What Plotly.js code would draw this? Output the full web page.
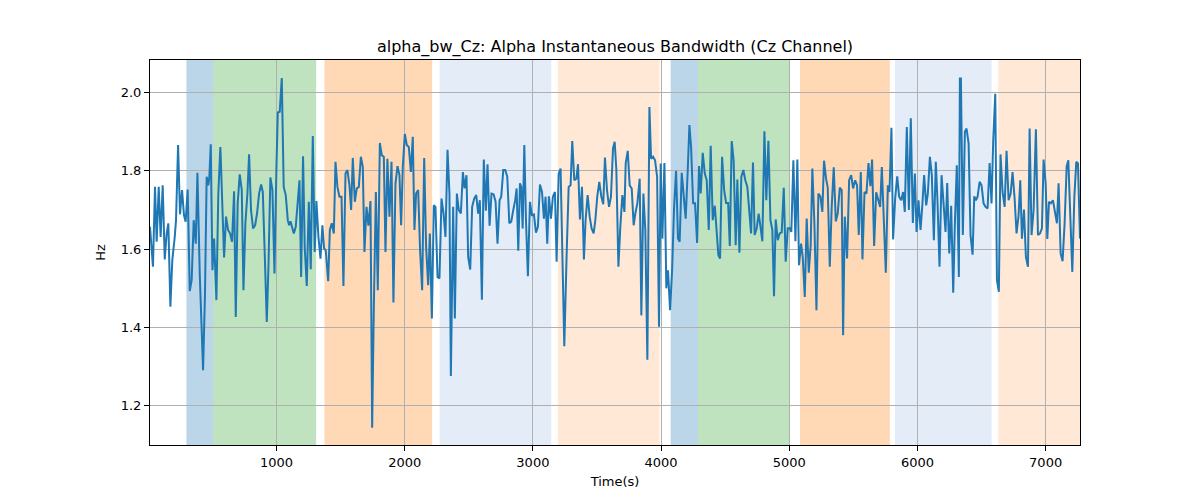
<!DOCTYPE html>
<html>
<head>
<meta charset="utf-8">
<script src="https://cdn.plot.ly/plotly-3.0.1.min.js"></script>
<style>
  body { margin: 0; background: #fff; }
  #chart { width: 1200px; height: 500px; }
</style>
</head>
<body>
<div id="chart"></div>
<script>
// Alpha bandwidth on Cz

// sample times (s)
const time = [
  13, 36, 52, 65, 81, 96, 112, 128, 143, 156, 172, 187, 206, 216, 232, 247, 263, 278, 291, 307,
  323, 338, 354, 370, 383, 401, 427, 442, 455, 468, 476, 487, 500, 513, 531, 546, 562, 578, 591, 606,
  622, 638, 653, 669, 682, 697, 713, 729, 742, 757, 773, 786, 801, 817, 833, 848, 864, 880, 893, 908,
  924, 937, 952, 968, 984, 999, 1010, 1025, 1041, 1056, 1072, 1088, 1098, 1109, 1119, 1135, 1150, 1163, 1179, 1192,
  1207, 1220, 1236, 1252, 1267, 1283, 1298, 1311, 1327, 1343, 1358, 1371, 1384, 1403, 1416, 1431, 1447, 1460, 1475, 1491,
  1507, 1522, 1538, 1553, 1569, 1582, 1595, 1611, 1626, 1642, 1658, 1673, 1686, 1702, 1717, 1733, 1746, 1759, 1775, 1790,
  1806, 1821, 1837, 1850, 1865, 1881, 1897, 1912, 1928, 1944, 1959, 1972, 1985, 2001, 2016, 2032, 2048, 2063, 2076, 2089,
  2105, 2120, 2136, 2152, 2167, 2183, 2196, 2212, 2227, 2240, 2256, 2271, 2287, 2303, 2318, 2334, 2349, 2360, 2378, 2391,
  2407, 2422, 2438, 2454, 2467, 2482, 2495, 2511, 2526, 2542, 2558, 2573, 2586, 2602, 2617, 2633, 2646, 2662, 2677, 2693,
  2709, 2724, 2740, 2753, 2769, 2784, 2800, 2816, 2831, 2847, 2862, 2873, 2886, 2899, 2909, 2920, 2933, 2946, 2961, 2977,
  2992, 3008, 3024, 3039, 3055, 3071, 3086, 3099, 3112, 3125, 3141, 3156, 3172, 3185, 3201, 3216, 3232, 3245, 3263, 3279,
  3294, 3307, 3323, 3339, 3352, 3367, 3383, 3398, 3411, 3427, 3443, 3458, 3474, 3487, 3502, 3518, 3534, 3549, 3562, 3578,
  3594, 3609, 3625, 3638, 3651, 3667, 3682, 3698, 3714, 3724, 3740, 3755, 3771, 3786, 3799, 3815, 3833, 3846, 3862, 3877,
  3893, 3909, 3922, 3937, 3953, 3969, 3984, 3997, 4010, 4026, 4041, 4054, 4070, 4086, 4101, 4117, 4132, 4145, 4161, 4177,
  4192, 4208, 4221, 4234, 4250, 4265, 4281, 4296, 4309, 4325, 4341, 4356, 4372, 4387, 4403, 4419, 4432, 4447, 4460, 4476,
  4492, 4507, 4523, 4536, 4551, 4566, 4582, 4595, 4611, 4626, 4642, 4657, 4673, 4689, 4702, 4717, 4730, 4746, 4761, 4777,
  4790, 4806, 4821, 4837, 4853, 4868, 4881, 4894, 4910, 4925, 4941, 4957, 4972, 4988, 5003, 5016, 5032, 5048, 5063, 5076,
  5092, 5105, 5121, 5136, 5152, 5167, 5180, 5196, 5212, 5227, 5243, 5258, 5271, 5287, 5300, 5316, 5331, 5347, 5363, 5378,
  5394, 5409, 5420, 5433, 5451, 5467, 5483, 5498, 5514, 5529, 5542, 5558, 5571, 5587, 5602, 5618, 5633, 5646, 5662, 5678,
  5693, 5709, 5722, 5738, 5753, 5769, 5782, 5797, 5810, 5826, 5842, 5857, 5873, 5888, 5901, 5917, 5933, 5948, 5964, 5980,
  5993, 6008, 6024, 6039, 6052, 6068, 6081, 6097, 6112, 6128, 6143, 6156, 6172, 6188, 6203, 6219, 6232, 6248, 6263, 6279,
  6292, 6307, 6323, 6331, 6339, 6354, 6370, 6383, 6399, 6414, 6430, 6443, 6456, 6469, 6485, 6500, 6516, 6531, 6547, 6563,
  6578, 6591, 6607, 6620, 6635, 6648, 6664, 6680, 6695, 6711, 6727, 6742, 6758, 6773, 6789, 6802, 6815, 6831, 6846, 6862,
  6875, 6890, 6906, 6924, 6940, 6956, 6971, 6984, 7000, 7013, 7026, 7041, 7057, 7073, 7088, 7101, 7117, 7132, 7148, 7164,
  7177, 7192, 7208, 7224, 7239, 7252, 7268
];

// instantaneous bandwidth (Hz)
const bandwidth = [
  1.657, 1.555, 1.759, 1.619, 1.759, 1.631, 1.763, 1.574, 1.640, 1.666, 1.453, 1.572, 1.631, 1.674, 1.866, 1.689, 1.751, 1.687, 1.670, 1.752,
  1.493, 1.521, 1.674, 1.614, 1.795, 1.538, 1.291, 1.487, 1.785, 1.763, 1.785, 1.868, 1.546, 1.627, 1.470, 1.742, 1.861, 1.674, 1.579, 1.683,
  1.649, 1.640, 1.619, 1.748, 1.427, 1.717, 1.791, 1.751, 1.495, 1.666, 1.742, 1.842, 1.700, 1.653, 1.661, 1.691, 1.742, 1.765, 1.746, 1.589,
  1.414, 1.555, 1.783, 1.751, 1.538, 1.802, 1.949, 1.951, 2.037, 1.759, 1.738, 1.674, 1.661, 1.671, 1.657, 1.640, 1.657, 1.712, 1.776, 1.529,
  1.837, 1.606, 1.506, 1.721, 1.549, 1.889, 1.593, 1.723, 1.631, 1.576, 1.661, 1.602, 1.597, 1.518, 1.649, 1.666, 1.640, 1.823, 1.759, 1.734,
  1.734, 1.506, 1.793, 1.802, 1.763, 1.700, 1.833, 1.721, 1.755, 1.759, 1.836, 1.810, 1.593, 1.708, 1.660, 1.723, 1.144, 1.449, 1.746, 1.495,
  1.871, 1.840, 1.836, 1.593, 1.831, 1.683, 1.823, 1.464, 1.768, 1.812, 1.789, 1.661, 1.810, 1.894, 1.866, 1.861, 1.797, 1.887, 1.649, 1.742,
  1.751, 1.597, 1.495, 1.833, 1.606, 1.508, 1.640, 1.423, 1.712, 1.708, 1.529, 1.525, 1.729, 1.691, 1.631, 1.854, 1.742, 1.276, 1.708, 1.423,
  1.742, 1.700, 1.691, 1.797, 1.755, 1.789, 1.580, 1.548, 1.708, 1.729, 1.738, 1.691, 1.725, 1.471, 1.829, 1.698, 1.817, 1.660, 1.742, 1.740,
  1.721, 1.614, 1.725, 1.734, 1.802, 1.802, 1.785, 1.666, 1.670, 1.700, 1.725, 1.755, 1.596, 1.768, 1.759, 1.653, 1.866, 1.674, 1.531, 1.721,
  1.687, 1.689, 1.642, 1.657, 1.765, 1.746, 1.678, 1.734, 1.614, 1.735, 1.678, 1.734, 1.746, 1.568, 1.793, 1.806, 1.589, 1.352, 1.585, 1.759,
  1.763, 1.876, 1.776, 1.780, 1.817, 1.676, 1.759, 1.574, 1.674, 1.738, 1.683, 1.653, 1.640, 1.674, 1.734, 1.772, 1.734, 1.715, 1.834, 1.751,
  1.708, 1.734, 1.857, 1.874, 1.802, 1.555, 1.657, 1.738, 1.695, 1.819, 1.851, 1.763, 1.755, 1.661, 1.691, 1.717, 1.780, 1.431, 1.742, 1.649,
  1.318, 1.963, 1.831, 1.836, 1.827, 1.785, 1.402, 1.819, 1.627, 1.820, 1.500, 1.546, 1.444, 1.546, 1.704, 1.800, 1.627, 1.619, 1.795, 1.742,
  1.678, 1.802, 1.917, 1.861, 1.717, 1.717, 1.616, 1.812, 1.742, 1.846, 1.793, 1.776, 1.649, 1.864, 1.674, 1.711, 1.653, 1.585, 1.576, 1.836,
  1.751, 1.718, 1.718, 1.608, 1.876, 1.827, 1.610, 1.778, 1.591, 1.785, 1.802, 1.776, 1.759, 1.700, 1.640, 1.821, 1.636, 1.653, 1.691, 1.653,
  1.620, 1.901, 1.725, 1.877, 1.674, 1.649, 1.480, 1.676, 1.623, 1.640, 1.643, 1.757, 1.568, 1.653, 1.654, 1.644, 1.827, 1.620, 1.829, 1.559,
  1.614, 1.580, 1.478, 1.678, 1.540, 1.610, 1.806, 1.666, 1.444, 1.742, 1.734, 1.695, 1.826, 1.780, 1.757, 1.555, 1.708, 1.809, 1.671, 1.691,
  1.757, 1.751, 1.380, 1.683, 1.576, 1.776, 1.789, 1.755, 1.776, 1.763, 1.636, 1.797, 1.574, 1.746, 1.742, 1.820, 1.761, 1.829, 1.608, 1.745,
  1.725, 1.708, 1.810, 1.653, 1.540, 1.763, 1.746, 1.910, 1.625, 1.729, 1.786, 1.734, 1.725, 1.746, 1.695, 1.912, 1.700, 1.934, 1.667, 1.793,
  1.644, 1.725, 1.649, 1.717, 1.789, 1.712, 1.742, 1.836, 1.789, 1.623, 1.823, 1.725, 1.555, 1.789, 1.704, 1.644, 1.769, 1.589, 1.711, 1.489,
  1.666, 1.814, 1.529, 2.036, 2.036, 1.636, 1.900, 1.908, 1.870, 1.636, 1.586, 1.735, 1.725, 1.734, 1.772, 1.763, 1.717, 1.708, 1.704, 1.820,
  1.717, 1.878, 1.997, 1.521, 1.491, 1.842, 1.746, 1.708, 1.851, 1.725, 1.742, 1.797, 1.729, 1.640, 1.687, 1.776, 1.627, 1.701, 1.580, 1.555,
  1.908, 1.636, 1.700, 1.906, 1.636, 1.640, 1.653, 1.829, 1.768, 1.626, 1.721, 1.717, 1.725, 1.691, 1.666, 1.768, 1.589, 1.569, 1.666, 1.812,
  1.827, 1.687, 1.542, 1.734, 1.823, 1.819, 1.627
];

// shaded segments (start, end, kind)
const segStart = [297, 505, 1374, 2272, 3195, 4075, 4288, 5084, 5824, 6630];
const segEnd   = [505, 1309, 2214, 3143, 3989, 4288, 4998, 5785, 6578, 7268];
const segKind  = ['blue', 'green', 'orange', 'paleBlue', 'paleOrange',
                  'blue', 'green', 'orange', 'paleBlue', 'paleOrange'];

const xTicks = [1000, 2000, 3000, 4000, 5000, 6000, 7000];
const yTicks = [1.2, 1.4, 1.6, 1.8, 2.0];

const fills = {
  blue: 'rgba(31,119,180,0.3)',
  green: 'rgba(44,160,44,0.3)',
  orange: 'rgba(255,127,14,0.3)',
  paleBlue: 'rgba(108,150,210,0.18)',
  paleOrange: 'rgba(255,127,14,0.17)'
};

let shapes = [];
for (let i = 0; i < segStart.length; i++) {
  shapes.push({
    type: 'rect',
    xref: 'x',
    yref: 'paper',
    x0: segStart[i],
    x1: segEnd[i],
    y0: 0,
    y1: 1,
    fillcolor: fills[segKind[i]],
    line: { width: 0 },
    layer: 'below'
  });
}

let trace = {
  x: time,
  y: bandwidth,
  mode: 'lines',
  line: { color: '#1f77b4', width: 2 },
  hoverinfo: 'skip'
};

const axisFont = { family: 'DejaVu Sans', size: 13, color: '#000' };

let layout = {
  width: 1200,
  height: 500,
  margin: { l: 150, r: 120, t: 60, b: 55 },
  paper_bgcolor: '#fff',
  plot_bgcolor: '#fff',
  showlegend: false,
  font: axisFont,
  title: {
    text: 'alpha_bw_Cz: Alpha Instantaneous Bandwidth (Cz Channel)',
    font: { family: 'DejaVu Sans', size: 16, color: '#000' },
    x: 0.5125,
    xanchor: 'center',
    y: 0.908,
    yanchor: 'middle'
  },
  xaxis: {
    range: [time[0], time[time.length - 1]],
    tickvals: xTicks,
    ticktext: xTicks.map(String),
    showgrid: true,
    gridcolor: '#b0b0b0',
    gridwidth: 1,
    zeroline: false,
    showline: true,
    mirror: true,
    linecolor: '#000',
    linewidth: 1,
    ticks: 'outside',
    ticklen: 5,
    tickcolor: '#000',
    tickfont: axisFont,
    title: { text: 'Time(s)', font: axisFont, standoff: 8 }
  },
  yaxis: {
    range: [1.100, 2.083],
    tickvals: yTicks,
    ticktext: yTicks.map(v => v.toFixed(1)),
    showgrid: true,
    gridcolor: '#b0b0b0',
    gridwidth: 1,
    zeroline: false,
    showline: true,
    mirror: true,
    linecolor: '#000',
    linewidth: 1,
    ticks: 'outside',
    ticklen: 5,
    tickcolor: '#000',
    tickfont: axisFont,
    title: { text: 'Hz', font: axisFont, standoff: 12 }
  },
  shapes: shapes
};

Plotly.newPlot('chart', [trace], layout, { staticPlot: true, displayModeBar: false });
</script>
</body>
</html>
